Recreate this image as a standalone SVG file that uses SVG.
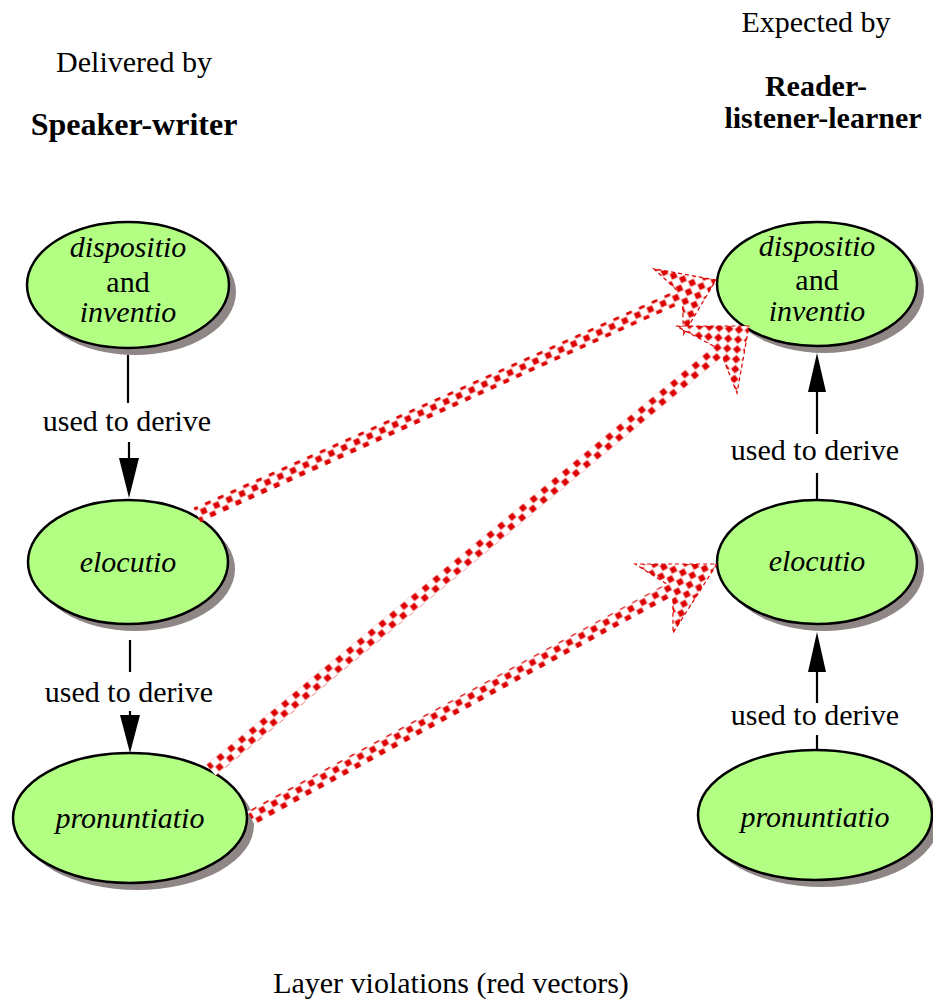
<svg xmlns="http://www.w3.org/2000/svg" width="933" height="1000" viewBox="0 0 933 1000">
<style>
.t{font-family:"Liberation Serif","Times New Roman",serif;font-size:30px;fill:#000;text-anchor:middle}
.b{font-weight:bold}
.i{font-style:italic}
.sh{fill:#8f8686}
.el{fill:#b2ff84;stroke:#000;stroke-width:2.5}
.ln{stroke:#000;stroke-width:2.2;fill:none}
.ah{fill:#000}
.hd{fill:none;stroke:#dd0000;stroke-width:1.2;stroke-dasharray:4 3}
</style>
<defs>
<pattern id="chk1" width="14" height="14" patternUnits="userSpaceOnUse" patternTransform="rotate(-24.3)">
<rect width="14" height="14" fill="#fff"/><rect x="0.5" y="0.5" width="6" height="6" fill="#dd0000"/><rect x="7.5" y="7.5" width="6" height="6" fill="#dd0000"/>
</pattern>
<pattern id="chk2" width="14" height="14" patternUnits="userSpaceOnUse" patternTransform="rotate(-39.5)">
<rect width="14" height="14" fill="#fff"/><rect x="0.5" y="0.5" width="6" height="6" fill="#dd0000"/><rect x="7.5" y="7.5" width="6" height="6" fill="#dd0000"/>
</pattern>
<pattern id="chk3" width="14" height="14" patternUnits="userSpaceOnUse" patternTransform="rotate(-28.6)">
<rect width="14" height="14" fill="#fff"/><rect x="0.5" y="0.5" width="6" height="6" fill="#dd0000"/><rect x="7.5" y="7.5" width="6" height="6" fill="#dd0000"/>
</pattern>
</defs>
<rect width="933" height="1000" fill="#fff"/>

<g id="headings">
<text class="t" x="134" y="72">Delivered by</text>
<text class="t b" x="134" y="135" style="font-size:32px">Speaker-writer</text>
<text class="t" x="816" y="32">Expected by</text>
<text class="t b" x="816" y="96">Reader-</text>
<text class="t b" x="823" y="128">listener-learner</text>
</g>

<g id="L1">
<ellipse class="sh" cx="135" cy="292" rx="101" ry="63"/>
<ellipse class="el" cx="128" cy="285" rx="101" ry="63"/>
<text class="t i" x="128" y="257">dispositio</text>
<text class="t" x="128" y="292">and</text>
<text class="t i" x="128" y="322">inventio</text>
</g>
<g id="L2">
<ellipse class="sh" cx="135" cy="569" rx="100" ry="62"/>
<ellipse class="el" cx="128" cy="562" rx="100" ry="62"/>
<text class="t i" x="128" y="572">elocutio</text>
</g>
<g id="L3">
<ellipse class="sh" cx="137" cy="825" rx="117" ry="65"/>
<ellipse class="el" cx="130" cy="818" rx="117" ry="65"/>
<text class="t i" x="130" y="828">pronuntiatio</text>
</g>
<g id="R1">
<ellipse class="sh" cx="824" cy="291" rx="100" ry="62"/>
<ellipse class="el" cx="817" cy="284" rx="100" ry="62"/>
<text class="t i" x="817" y="256">dispositio</text>
<text class="t" x="817" y="290">and</text>
<text class="t i" x="817" y="321">inventio</text>
</g>
<g id="R2">
<ellipse class="sh" cx="824" cy="569" rx="100" ry="62"/>
<ellipse class="el" cx="817" cy="562" rx="100" ry="62"/>
<text class="t i" x="817" y="571">elocutio</text>
</g>
<g id="R3">
<ellipse class="sh" cx="822" cy="822" rx="117" ry="65"/>
<ellipse class="el" cx="815" cy="815" rx="117" ry="65"/>
<text class="t i" x="815" y="827">pronuntiatio</text>
</g>

<g id="connectors">
<line class="ln" x1="128" y1="355" x2="128" y2="403"/>
<text class="t" x="127" y="431">used to derive</text>
<line class="ln" x1="129" y1="442" x2="129" y2="460"/>
<polygon class="ah" points="119,458 139,458 129,498"/>

<line class="ln" x1="130" y1="640" x2="130" y2="672"/>
<text class="t" x="129" y="702">used to derive</text>
<line class="ln" x1="130" y1="711" x2="130" y2="718"/>
<polygon class="ah" points="120,715 140,715 130,753"/>

<line class="ln" x1="817" y1="500" x2="817" y2="473"/>
<text class="t" x="815" y="460">used to derive</text>
<line class="ln" x1="817" y1="434" x2="817" y2="390"/>
<polygon class="ah" points="808,392 826,392 817,353"/>

<line class="ln" x1="817" y1="750" x2="817" y2="735"/>
<text class="t" x="815" y="725">used to derive</text>
<line class="ln" x1="817" y1="703" x2="817" y2="670"/>
<polygon class="ah" points="808,672 826,672 817,632"/>

<g id="red-vectors">
<polygon fill="url(#chk1)" points="193.6,507.7 676.7,290.1 653.8,268.7 716,280 683.5,334.3 682.5,302.9 200.4,522.3"/>
<polyline class="hd" points="676.7,290.1 653.8,268.7 716,280 683.5,334.3 682.5,302.9"/>
<polygon fill="url(#chk2)" points="206.2,764.2 713.7,346.1 676,326 749,326 737,393 722.6,356.9 215.8,775.8"/>
<polyline class="hd" points="713.7,346.1 676,326 749,326 737,393 722.6,356.9"/>
<polygon fill="url(#chk3)" points="247.4,811.4 666.2,583.7 635,564 717,564 673,633 672.9,596 254.6,824.6"/>
<polyline class="hd" points="666.2,583.7 635,564 717,564 673,633 672.9,596"/>
</g>
</g>

<text class="t" x="451" y="993">Layer violations (red vectors)</text>
</svg>
